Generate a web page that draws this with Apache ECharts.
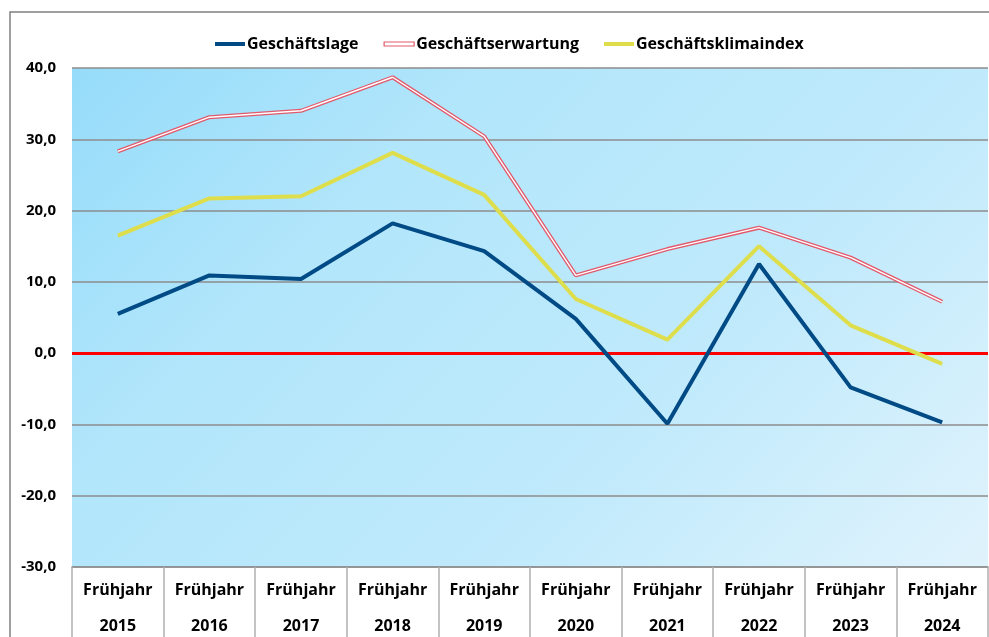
<!DOCTYPE html>
<html>
<head>
<meta charset="utf-8">
<script src="https://cdn.jsdelivr.net/npm/echarts@6/dist/echarts.min.js"></script>
<style>html,body{margin:0;padding:0;background:#fff;}#c{width:989px;height:637px;}</style>
</head>
<body>
<div id="c"></div>
<script>
const categories = ['2015','2016','2017','2018','2019','2020','2021','2022','2023','2024'];
const seasonLabel = 'Frühjahr';
const geschaeftslage = [5.5, 10.9, 10.4, 18.2, 14.3, 4.8, -9.9, 12.5, -4.8, -9.7];
const geschaeftserwartung = [28.3, 33.1, 34.0, 38.7, 30.4, 10.9, 14.6, 17.6, 13.4, 7.2];
const geschaeftsklimaindex = [16.5, 21.7, 22.0, 28.1, 22.2, 7.6, 1.9, 15.0, 3.9, -1.5];
const yTicks = [-30, -20, -10, 0, 10, 20, 30, 40];

const FONT = '"Open Sans", "Noto Sans", sans-serif';
const chart = echarts.init(document.getElementById('c'), null, {renderer: 'canvas'});
chart.setOption({
  animation: false,
  backgroundColor: '#ffffff',
  graphic: [{
    type: 'rect', silent: true, z: 100,
    shape: {x: 10, y: 12, width: 1100, height: 800},
    style: {fill: 'none', stroke: '#808080', lineWidth: 1.5}
  }],
  legend: {
    top: 31, left: 210, itemGap: 25, itemWidth: 30, itemHeight: 4,
    textStyle: {fontFamily: FONT, fontWeight: 'bold', fontSize: 16, color: '#000', padding: [0, 0, 0, -3]},
    data: [
      {name: 'Geschäftslage', icon: 'rect', itemStyle: {color: '#004a85', borderWidth: 0}},
      {name: 'Geschäftserwartung', icon: 'rect', itemStyle: {color: '#ffffff', borderColor: '#e05a6c', borderWidth: 1.2}},
      {name: 'Geschäftsklimaindex', icon: 'rect', itemStyle: {color: '#dede4c', borderWidth: 0}}
    ]
  },
  grid: {
    left: 72, right: 1, top: 68, bottom: 70, show: true, borderWidth: 0,
    outerBoundsMode: 'none', containLabel: false,
    backgroundColor: {
      type: 'linear', x: 72, y: 68, x2: 779, y2: 775, global: true,
      colorStops: [
        {offset: 0, color: '#96dcfa'},
        {offset: 0.3, color: '#b2e6fb'},
        {offset: 0.65, color: '#c0eafc'},
        {offset: 1, color: '#e0f3fc'}
      ]
    }
  },
  xAxis: {
    type: 'category', data: categories, boundaryGap: true,
    axisLine: {show: true, onZero: false, lineStyle: {color: '#909090', width: 1.5}},
    axisTick: {show: true, inside: false, length: 75, interval: 0, lineStyle: {color: '#b0b0b0', width: 1.5}},
    axisLabel: {
      interval: 0, margin: 5, lineHeight: 36,
      fontFamily: FONT, fontWeight: 'bold', fontSize: 16, color: '#000',
      formatter: v => seasonLabel + '\n' + v
    }
  },
  yAxis: {
    type: 'value', min: yTicks[0], max: yTicks[yTicks.length - 1], interval: 10,
    axisLine: {show: false}, axisTick: {show: false},
    splitLine: {show: true, lineStyle: {color: '#8c8c8c', width: 1.5}},
    axisLabel: {
      margin: 16, fontFamily: FONT, fontWeight: 'bold', fontSize: 15, color: '#000',
      formatter: v => v.toFixed(1).replace('.', ',')
    }
  },
  series: [
    {
      name: 'Geschäftslage', type: 'line', data: geschaeftslage, symbol: 'none', z: 5,
      lineStyle: {color: '#004a85', width: 4}, itemStyle: {color: '#004a85'},
      markLine: {
        silent: true, symbol: 'none', label: {show: false},
        lineStyle: {color: '#ff0000', width: 3, type: 'solid'},
        data: [{yAxis: 0}], z: 2
      }
    },
    {
      name: 'Geschäftserwartung', type: 'line', data: geschaeftserwartung, symbol: 'none', z: 4,
      lineStyle: {color: '#e05a6c', width: 4}, itemStyle: {color: '#e05a6c'}
    },
    {
      name: 'Geschäftserwartung', type: 'line', data: geschaeftserwartung, symbol: 'none', z: 4.5,
      lineStyle: {color: '#ffffff', width: 1.4}, itemStyle: {color: '#ffffff'}
    },
    {
      name: 'Geschäftsklimaindex', type: 'line', data: geschaeftsklimaindex, symbol: 'none', z: 4,
      lineStyle: {color: '#dede4c', width: 4}, itemStyle: {color: '#dede4c'}
    }
  ]
});
</script>
</body>
</html>
